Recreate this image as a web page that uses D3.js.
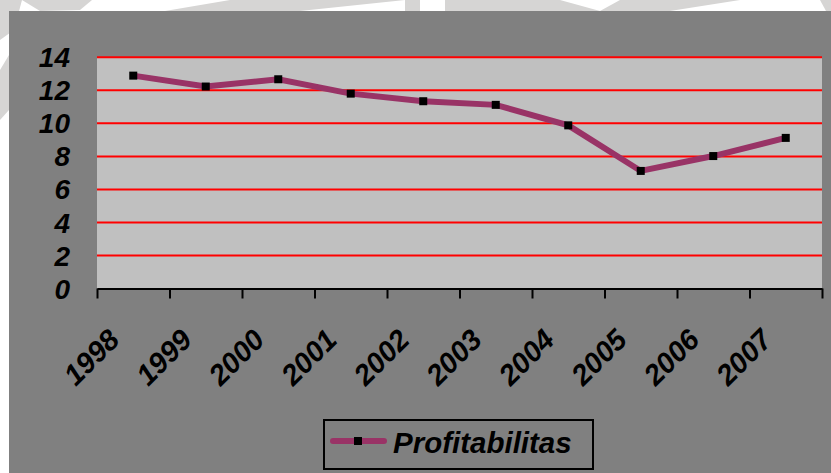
<!DOCTYPE html>
<html>
<head>
<meta charset="utf-8">
<script src="https://cdn.jsdelivr.net/npm/d3@7"></script>
<style>
  html, body { margin: 0; padding: 0; background: #fff; }
  svg { display: block; }
  text { font-family: "Liberation Sans", Arial, sans-serif; font-weight: bold; font-style: italic; fill: #000; }
</style>
</head>
<body>
<div id="chart"></div>
<script>
const years = ['1998', '1999', '2000', '2001', '2002', '2003', '2004', '2005', '2006', '2007'];
const profitabilitas = [12.89, 12.23, 12.67, 11.8, 11.34, 11.12, 9.88, 7.12, 8.02, 9.12];
const yTicks = [0, 2, 4, 6, 8, 10, 12, 14];
const seriesName = 'Profitabilitas';

const width = 831, height = 473;
const plot = { left: 97, right: 822, top: 57.3, bottom: 288.5 };

const svg = d3.select('#chart')
    .append('svg')
    .attr('width', width)
    .attr('height', height);

// faint watermark from the scanned page behind the chart
const marks = [
    [[0, 0], [22, 0], [14, 30], [0, 40]],
    [[22, 0], [92, 0], [80, 10], [40, 11]],
    [[165, 11], [230, 0], [405, 0], [300, 11]],
    [[405, 0], [420, 0], [420, 11], [405, 11]],
    [[445, 0], [560, 0], [600, 11], [445, 11]],
    [[620, 0], [740, 0], [670, 11], [600, 11]],
    [[820, 0], [831, 0], [831, 11], [826, 11]],
    [[0, 70], [9, 55], [9, 110], [0, 120]]
];
svg.append('g')
    .selectAll('polygon')
    .data(marks)
    .enter()
    .append('polygon')
    .attr('points', d => d.map(p => p.join(',')).join(' '))
    .attr('fill', '#d6d5d4');

svg.append('rect')
    .attr('x', 9).attr('y', 11)
    .attr('width', width - 9).attr('height', height - 11)
    .attr('fill', '#808080');

const x = d3.scaleBand()
    .domain(years)
    .range([plot.left, plot.right]);

const xTickScale = d3.scaleLinear()
    .domain([0, years.length])
    .range([plot.left, plot.right]);

const y = d3.scaleLinear()
    .domain([0, 14])
    .range([plot.bottom, plot.top]);

svg.append('rect')
    .attr('x', plot.left).attr('y', plot.top)
    .attr('width', plot.right - plot.left).attr('height', plot.bottom - plot.top)
    .attr('fill', '#c0c0c0');

// red gridlines
svg.append('g')
    .selectAll('line')
    .data(yTicks.filter(d => d > 0))
    .enter()
    .append('line')
    .attr('x1', plot.left).attr('x2', plot.right)
    .attr('y1', d => y(d)).attr('y2', d => y(d))
    .attr('stroke', '#ff0000')
    .attr('stroke-width', 2);

// y labels
svg.append('g')
    .selectAll('text')
    .data(yTicks)
    .enter()
    .append('text')
    .attr('x', 70)
    .attr('y', d => y(d))
    .attr('dy', '0.36em')
    .attr('text-anchor', 'end')
    .style('font-size', '28px')
    .text(d => d);

// x axis, ticks on category boundaries
const xAxis = svg.append('g')
    .attr('transform', `translate(0, ${plot.bottom})`)
    .call(d3.axisBottom(xTickScale)
        .tickValues(d3.range(years.length + 1))
        .tickSize(10)
        .tickSizeOuter(0)
        .tickFormat(''));
xAxis.select('.domain').attr('stroke', '#000').attr('stroke-width', 2);
xAxis.selectAll('.tick line').attr('stroke', '#000').attr('stroke-width', 2);

svg.append('g')
    .selectAll('text')
    .data(years)
    .enter()
    .append('text')
    .attr('text-anchor', 'end')
    .attr('transform', d => `translate(${x(d) + x.bandwidth() / 2 - 12}, ${plot.bottom + 53}) rotate(-45)`)
    .style('font-size', '29px')
    .text(d => d);

// series line
const line = d3.line()
    .x((d, i) => x(years[i]) + x.bandwidth() / 2)
    .y(d => y(d));

svg.append('path')
    .datum(profitabilitas)
    .attr('d', line)
    .attr('fill', 'none')
    .attr('stroke', '#993366')
    .attr('stroke-width', 6);

svg.append('g')
    .selectAll('rect')
    .data(profitabilitas)
    .enter()
    .append('rect')
    .attr('x', (d, i) => x(years[i]) + x.bandwidth() / 2 - 4)
    .attr('y', d => y(d) - 4)
    .attr('width', 8)
    .attr('height', 8)
    .attr('fill', '#000');

// legend
const legend = svg.append('g');
legend.append('rect')
    .attr('x', 324).attr('y', 420)
    .attr('width', 269).attr('height', 49)
    .attr('fill', 'none')
    .attr('stroke', '#000')
    .attr('stroke-width', 2);
legend.append('line')
    .attr('x1', 333).attr('x2', 384)
    .attr('y1', 441).attr('y2', 441)
    .attr('stroke', '#993366')
    .attr('stroke-width', 6)
    .attr('stroke-linecap', 'round');
legend.append('rect')
    .attr('x', 354).attr('y', 437)
    .attr('width', 8).attr('height', 8)
    .attr('fill', '#000');
legend.append('text')
    .attr('x', 393).attr('y', 453)
    .style('font-size', '29.5px')
    .text(seriesName);
</script>
</body>
</html>
